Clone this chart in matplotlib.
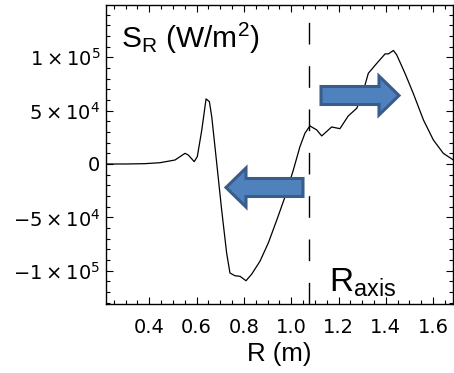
import matplotlib
matplotlib.use('Agg')
import matplotlib.pyplot as plt
from matplotlib.patches import FancyArrow
from matplotlib.ticker import MultipleLocator

# radial profile of S_R
r = [0.217, 0.30, 0.38, 0.445, 0.509, 0.551, 0.565, 0.590, 0.603, 0.622,
     0.640, 0.654, 0.664, 0.685, 0.706, 0.727, 0.741, 0.762, 0.784, 0.809,
     0.833, 0.868, 0.903, 0.939, 0.974, 1.009, 1.037, 1.058, 1.079, 1.108,
     1.129, 1.171, 1.184, 1.206, 1.241, 1.277, 1.298, 1.326, 1.362, 1.397,
     1.411, 1.432, 1.446, 1.481, 1.516, 1.559, 1.601, 1.643, 1.684]
s_r = [0, 0, 300, 1200, 3750, 10000, 8400, 2200, 6900, 31900,
       61000, 58500, 44400, 900, -43100, -83400, -102100, -104700, -105300, -109400,
       -103200, -91100, -74100, -52500, -30600, -5600, 16300, 28800, 35700, 31900,
       26300, 34700, 34100, 33100, 45000, 52200, 63100, 85000, 94400, 103200,
       103200, 106400, 102300, 85000, 66200, 41300, 22500, 10000, 4000]

r_axis = 1.075

xtick_vals = [0.4, 0.6, 0.8, 1.0, 1.2, 1.4, 1.6]
xtick_labels = ['0.4', '0.6', '0.8', '1.0', '1.2', '1.4', '1.6']
ytick_vals = [-1e5, -5e4, 0, 5e4, 1e5]
ytick_labels = [r'$-1\times10^5$', r'$-5\times10^4$', '0', r'$5\times10^4$', r'$1\times10^5$']

plt.rcParams['mathtext.fontset'] = 'custom'
plt.rcParams['mathtext.rm'] = 'Liberation Sans'
plt.rcParams['mathtext.it'] = 'Liberation Sans:italic'
plt.rcParams['mathtext.bf'] = 'Liberation Sans:bold'

W, H = 454, 373
fig = plt.figure(figsize=(W / 100, H / 100), dpi=100)
ax = fig.add_axes([106 / W, 69 / H, 347 / W, 299 / H])

ax.plot(r, s_r, color='black', lw=0.9)
ax.axvline(r_axis, color='black', lw=1.0, dashes=(15.6, 15.6))

ax.set_xlim(0.217, 1.684)
ax.set_ylim(-1.312e5, 1.49e5)

ax.set_xticks(xtick_vals)
ax.set_xticklabels(xtick_labels)
ax.set_yticks(ytick_vals)
ax.set_yticklabels(ytick_labels)
ax.xaxis.set_minor_locator(MultipleLocator(0.05))
ax.yaxis.set_minor_locator(MultipleLocator(1e4))

ax.tick_params(which='both', direction='in', top=True, right=True, width=0.8)
ax.tick_params(which='major', length=5)
ax.tick_params(which='minor', length=3)
ax.tick_params(axis='x', pad=10, labelsize=14)
ax.tick_params(axis='y', pad=4, labelsize=14)
for lab in ax.get_xticklabels() + ax.get_yticklabels():
    lab.set_family('DejaVu Sans')
    lab.set_math_fontfamily('dejavusans')
for sp in ax.spines.values():
    sp.set_linewidth(1.0)

ax.set_xlabel('R (m)', fontsize=18.5, family='Liberation Sans', labelpad=4)

fig.text(121 / W, 1 - 48 / H, r'$\mathrm{S_R}$ (W/m$^2$)', fontsize=21.5,
         family='Liberation Sans', va='baseline')
fig.text(329 / W, 1 - 292 / H, r'$\mathrm{R_{axis}}$', fontsize=24, va='baseline')

# the two arrows (figure pixel layout)
fill, edge = '#4F81BD', '#385D8A'
fig.patches.append(FancyArrow(321 / W, 1 - 95.5 / H, 78 / W, 0, width=18 / H,
                              head_width=39 / H, head_length=20 / W,
                              length_includes_head=True, transform=fig.transFigure,
                              facecolor=fill, edgecolor=edge, lw=2.2))
fig.patches.append(FancyArrow(303 / W, 1 - 187.5 / H, -77 / W, 0, width=18 / H,
                              head_width=39 / H, head_length=20 / W,
                              length_includes_head=True, transform=fig.transFigure,
                              facecolor=fill, edgecolor=edge, lw=2.2))

fig.savefig('out.png', dpi=100)
